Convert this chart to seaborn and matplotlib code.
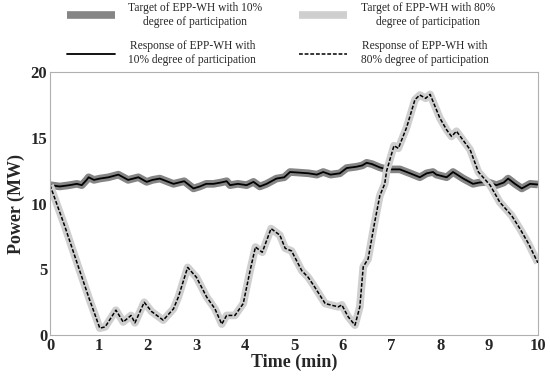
import numpy as np
import matplotlib
matplotlib.use("Agg")
import matplotlib.pyplot as plt
import seaborn as sns

# --- datos ---
t_10 = [0.0, 0.2, 0.4, 0.55, 0.65, 0.75, 0.79, 0.9, 1.02, 1.2, 1.4, 1.6, 1.81, 1.98,
        2.1, 2.25, 2.53, 2.75, 2.94, 3.07, 3.2, 3.35, 3.5, 3.62, 3.69, 3.85, 4.03,
        4.17, 4.3, 4.44, 4.64, 4.8, 4.92, 5.12, 5.3, 5.47, 5.6, 5.75, 5.94, 6.08,
        6.28, 6.4, 6.49, 6.6, 6.76, 6.9, 7.17, 7.38, 7.58, 7.72, 7.85, 7.92, 8.13,
        8.26, 8.47, 8.67, 8.8, 8.95, 9.15, 9.3, 9.39, 9.53, 9.67, 9.84, 10.0]
p_10 = [11.4, 11.3, 11.4, 11.5, 11.4, 11.8, 12.0, 11.8, 11.9, 12.0, 12.2, 11.8, 12.0, 11.65,
        11.8, 11.9, 11.5, 11.7, 11.15, 11.3, 11.5, 11.5, 11.6, 11.7, 11.4, 11.5, 11.4,
        11.65, 11.3, 11.5, 11.9, 12.0, 12.4, 12.35, 12.3, 12.2, 12.4, 12.2, 12.3, 12.7,
        12.8, 12.9, 13.1, 13.0, 12.75, 12.6, 12.6, 12.3, 12.0, 12.3, 12.4, 12.2, 12.0,
        12.4, 11.9, 11.5, 11.6, 11.65, 11.4, 11.6, 11.9, 11.5, 11.15, 11.5, 11.45]

t_80 = [0.0, 0.3, 0.58, 0.8, 1.02, 1.13, 1.35, 1.5, 1.66, 1.74, 1.93, 2.08, 2.32, 2.53,
        2.63, 2.82, 3.0, 3.21, 3.38, 3.52, 3.62, 3.79, 3.96, 4.1, 4.21, 4.35, 4.53,
        4.71, 4.82, 4.95, 5.16, 5.29, 5.4, 5.64, 5.91, 5.98, 6.11, 6.25, 6.35, 6.42,
        6.52, 6.65, 6.76, 6.86, 6.9, 7.05, 7.14, 7.31, 7.48, 7.58, 7.7, 7.79, 7.99,
        8.13, 8.23, 8.33, 8.47, 8.61, 8.78, 9.02, 9.22, 9.46, 9.63, 9.8, 10.0]
p_80 = [11.4, 8.3, 5.2, 2.8, 0.53, 0.63, 1.9, 1.0, 1.5, 0.94, 2.5, 1.8, 1.14, 2.0,
        2.9, 5.15, 4.4, 2.9, 2.0, 0.84, 1.5, 1.5, 2.4, 4.9, 6.7, 6.3, 8.1,
        7.6, 6.6, 6.4, 4.9, 4.4, 3.8, 2.4, 2.15, 2.3, 1.4, 0.76, 2.15, 5.2,
        5.8, 8.5, 10.6, 11.5, 12.5, 14.4, 14.2, 15.8, 17.9, 18.25, 18.0, 18.3, 16.5,
        15.6, 15.1, 15.5, 14.8, 14.1, 12.4, 11.4, 10.1, 9.1, 8.1, 7.0, 5.5]

etiquetas = ["Target of EPP-WH with 10%\ndegree of participation",
             "Response of EPP-WH with\n10% degree of participation",
             "Target of EPP-WH with 80%\ndegree of participation",
             "Response of EPP-WH with\n80% degree of participation"]

# --- estilo ---
sns.set_style("white")
plt.rcParams['font.family'] = ['Liberation Serif', 'DejaVu Serif']

fig = plt.figure(figsize=(5.5, 3.77), dpi=100)
ax = fig.add_axes([0.091, 0.111, 0.887, 0.698])

sns.lineplot(x=t_10, y=p_10, ax=ax, color='#858585', lw=5.5, sort=False,
             estimator=None, label=etiquetas[0], solid_capstyle='butt')
sns.lineplot(x=t_10, y=p_10, ax=ax, color='black', lw=1.3, sort=False,
             estimator=None, label=etiquetas[1])
sns.lineplot(x=t_80, y=p_80, ax=ax, color='#cfcfcf', lw=5.5, sort=False,
             estimator=None, label=etiquetas[2], solid_capstyle='butt')
sns.lineplot(x=t_80, y=p_80, ax=ax, color='black', lw=1.1, sort=False,
             estimator=None, label=etiquetas[3], linestyle=(0, (2.5, 1.2)))

ax.set_xlim(0, 10)
ax.set_ylim(0, 20)
ax.set_xticks(range(0, 11))
ax.set_yticks([0, 5, 10, 15, 20])
ax.tick_params(axis='both', length=0, labelsize=12, pad=2)
for lab in ax.get_xticklabels() + ax.get_yticklabels():
    lab.set_fontweight('bold')
ax.set_xlabel("Time (min)", fontsize=13, fontweight='bold', labelpad=0)
ax.set_ylabel("Power (MW)", fontsize=13, fontweight='bold', labelpad=4)
for s in ax.spines.values():
    s.set_color('#b0b0b0')
    s.set_linewidth(0.8)

handles, labels = ax.get_legend_handles_labels()
ax.get_legend().remove()
leg = fig.legend(handles, labels, loc='upper left', bbox_to_anchor=(0.118, 1.0),
                 ncol=2, frameon=False, fontsize=8.3, handlelength=4.16,
                 handletextpad=1.2, columnspacing=3.2, labelspacing=1.05,
                 borderpad=0.15, borderaxespad=0)
for t in leg.get_texts():
    t.set_multialignment('center')
    t.set_linespacing(1.25)

fig.savefig("out.png", dpi=100)
